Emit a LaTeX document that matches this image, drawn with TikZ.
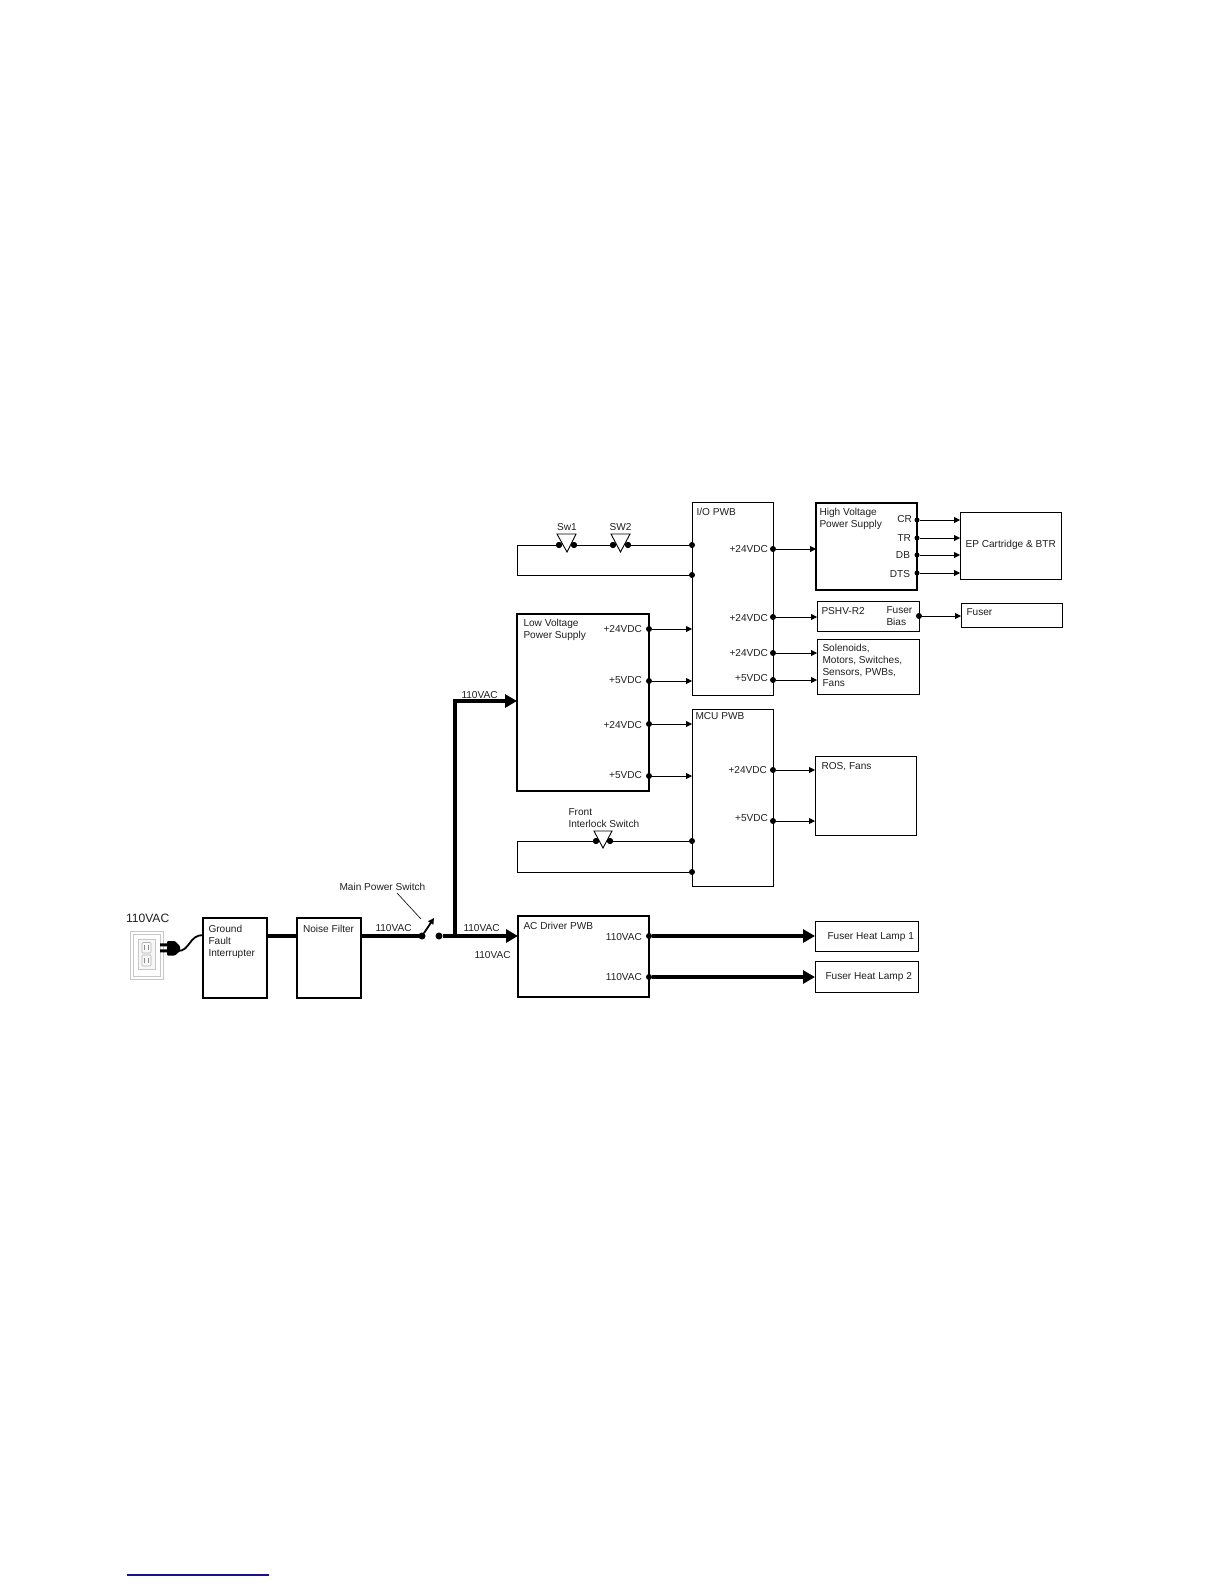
\documentclass[tikz,border=0pt]{standalone}
\usepackage{fontspec}
\setmainfont{Liberation Sans}
\usetikzlibrary{arrows.meta}
\newcommand{\bx}[6]{% style, name, x1, y1, x2, y2
  \pgfmathsetmacro{\bxw}{#5-#3}\pgfmathsetmacro{\bxh}{#6-#4}%
  \pgfmathsetmacro{\bxx}{(#3+#5)/2}\pgfmathsetmacro{\bxy}{(#4+#6)/2}%
  \node[#1,minimum width=\bxw pt,minimum height=\bxh pt] (#2) at (\bxx,\bxy) {};}
\tikzset{
  x=1pt,y=-1pt,
  boxthin/.style={draw=black,line width=1pt,inner sep=0pt,outer sep=0pt,fill=none},
  boxmid/.style={boxthin,line width=1.9pt},
  boxthick/.style={boxthin,line width=2.6pt},
  dot/.style={circle,fill=black,draw=none,minimum size=6pt,inner sep=0pt,outer sep=0pt},
  wire/.style={line width=1pt,draw=black},
  arrowwire/.style={wire,-{Triangle[length=6pt,width=6pt]}},
  mains/.style={line width=3.6pt,draw=black},
  mainsarrow/.style={mains,-{Triangle[length=12pt,width=13pt]}},
  txt/.style={inner sep=0pt,outer sep=0pt,anchor=north west,yshift=3.6pt,align=left,
    font=\fontsize{10.1}{11.7}\selectfont,text=black!88},
  txtr/.style={txt,anchor=north east,align=right},
  txtc/.style={txt,anchor=north,align=center},
  sw/.style={draw=black,line width=0.9pt,fill=white},
  plate/.style={draw=black!22,line width=0.8pt,fill=white},
}
\begin{document}
\begin{tikzpicture}
\useasboundingbox (0,0) rectangle (1224,1584);

% boxes
\bx{boxthick}{gfi}{203}{918}{267}{998}
\bx{boxthick}{nf}{297}{918}{361}{998}
\bx{boxmid}{ac}{518}{916}{649}{997}
\bx{boxmid}{lv}{517}{614}{649}{791}
\bx{boxthin}{io}{692}{502}{773}{695}
\bx{boxthin}{mcu}{692}{709}{773}{886}
\bx{boxthick}{hv}{816}{503}{917}{590}
\bx{boxthin}{ep}{960}{512}{1061}{579}
\bx{boxthin}{pshv}{817}{601}{919}{631}
\bx{boxthin}{fuser}{961}{603}{1062}{627}
\bx{boxthin}{sol}{817}{639}{919}{694}
\bx{boxthin}{ros}{815}{756}{916}{835}
\bx{boxthin}{lamp1}{815}{921}{918}{951}
\bx{boxthin}{lamp2}{815}{961}{918}{992}

% outlet
\draw[plate,line width=1pt] (130,931) rectangle (163,979);
\draw[plate] (133,934) rectangle (160,976);
\draw[plate,fill=black!3] (138,939) rectangle (155,969);
\draw[draw=black!30,line width=0.6pt,rounded corners=1pt] (142,942.5) rectangle (151,953) (142,955) rectangle (151,966);
\draw[draw=black!45,line width=0.7pt] (144,945) -- (144,950) (148.5,945) -- (148.5,950) (144,958) -- (144,963) (148.5,958) -- (148.5,963);
% plug
\fill[black] (160,943.3) rectangle (168,946.3) (160,949.3) rectangle (168,952.3);
\fill[black,rounded corners=1pt] (167,941) -- (175,941) -- (180,946) -- (180,951) -- (175,955.5) -- (167,955.5) -- cycle;
\draw[line width=1.8pt] (178,951) .. controls (190,951) and (189,935) .. (203,935);

% switch and mains dots
\node[dot,minimum size=7pt] (sa) at (422,936) {};
\node[dot,minimum size=7pt] (sb) at (439,936) {};
\coordinate (tee) at (455,936);
\coordinate (corner) at (455,701);
\coordinate (swtip) at (434,918);
\coordinate (ldA) at (397,893);
\coordinate (ldB) at (421,919);

\draw[mains] (gfi.east |- sa) -- (nf.west |- sa);
\draw[mains] (nf.east |- sa) -- (sa);
\draw[line width=1.8pt,-{Triangle[length=6pt,width=6pt]}] (sa) -- (swtip);
\draw[line width=0.6pt] (ldA) -- (ldB);
\draw[mainsarrow] (sb) -- (ac.west |- sb);
\draw[mainsarrow,line join=miter] (tee) -- (corner) -- (lv.west |- corner);

% AC driver outputs
\node[dot] (ac1) at (649,936) {};
\node[dot] (ac2) at (649,977) {};
\draw[mainsarrow] (ac1) -- (lamp1.west |- ac1);
\draw[mainsarrow] (ac2) -- (lamp2.west |- ac2);

% LVPS outputs
\node[dot] (lv1) at (649,629) {};
\node[dot] (lv2) at (649,681) {};
\node[dot] (lv3) at (649,724) {};
\node[dot] (lv4) at (649,776) {};
\draw[arrowwire] (lv1) -- (io.west |- lv1);
\draw[arrowwire] (lv2) -- (io.west |- lv2);
\draw[arrowwire] (lv3) -- (mcu.west |- lv3);
\draw[arrowwire] (lv4) -- (mcu.west |- lv4);

% I/O outputs
\node[dot] (io1) at (773,549) {};
\node[dot] (io2) at (773,617) {};
\node[dot] (io3) at (773,653) {};
\node[dot] (io4) at (773,680) {};
\draw[arrowwire] (io1) -- (hv.west |- io1);
\draw[arrowwire] (io2) -- (pshv.west |- io2);
\draw[arrowwire] (io3) -- (sol.west |- io3);
\draw[arrowwire] (io4) -- (sol.west |- io4);

% HV outputs
\node[dot,minimum size=5pt] (cr) at (917,520) {};
\node[dot,minimum size=5pt] (tr) at (917,538) {};
\node[dot,minimum size=5pt] (db) at (917,555) {};
\node[dot,minimum size=5pt] (dts) at (917,573) {};
\draw[arrowwire] (cr) -- (ep.west |- cr);
\draw[arrowwire] (tr) -- (ep.west |- tr);
\draw[arrowwire] (db) -- (ep.west |- db);
\draw[arrowwire] (dts) -- (ep.west |- dts);

% PSHV to fuser
\node[dot] (fb) at (919,616) {};
\draw[arrowwire] (fb) -- (fuser.west |- fb);

% MCU outputs
\node[dot] (mc1) at (773,770) {};
\node[dot] (mc2) at (773,821) {};
\draw[arrowwire] (mc1) -- (ros.west |- mc1);
\draw[arrowwire] (mc2) -- (ros.west |- mc2);

% switch loops: I/O
\node[dot] (ioa) at (692,545) {};
\node[dot] (iob) at (692,575) {};
\node[dot] (s1a) at (559,545) {};
\node[dot] (s1b) at (574,545) {};
\node[dot] (s2a) at (613,545) {};
\node[dot] (s2b) at (628,545) {};
\coordinate (ltop) at (517,545);
\coordinate (lbot) at (517,575);
\draw[wire] (s1a) -- (ltop) -- (lbot) -- (iob);
\draw[wire] (s1b) -- (s2a);
\draw[wire] (s2b) -- (ioa);
\draw[sw] (557,534) -- (576,534) -- (567,552) -- cycle;
\draw[sw] (611,534) -- (630,534) -- (620.5,552) -- cycle;
\node[dot] at (s1a) {};
\node[dot] at (s1b) {};
\node[dot] at (s2a) {};
\node[dot] at (s2b) {};

% switch loop: MCU
\node[dot] (mca) at (692,841) {};
\node[dot] (mcb) at (692,872) {};
\node[dot] (fia) at (596,841) {};
\node[dot] (fib) at (610,841) {};
\coordinate (mtop) at (517,841);
\coordinate (mbot) at (517,872);
\draw[wire] (fia) -- (mtop) -- (mbot) -- (mcb);
\draw[wire] (fib) -- (mca);
\draw[sw] (594,831) -- (612,831) -- (603,848) -- cycle;
\node[dot] at (fia) {};
\node[dot] at (fib) {};

% labels
\node[txt,font=\fontsize{12.1}{13}\selectfont] (t110) at (126,918) {110VAC};
\node[txt] (tgfi) at (208.5,929) {Ground\\Fault\\Interrupter};
\node[txt] (tnf) at (303,929) {Noise Filter};
\node[txt] (tmps) at (339.5,887) {Main Power Switch};
\node[txt] (tv1) at (375.5,928) {110VAC};
\node[txt] (tv2) at (463.5,928) {110VAC};
\node[txt] (tv3) at (474.5,955) {110VAC};
\node[txt] (tv4) at (461.5,695) {110VAC};
\node[txt] (tlv) at (523.5,623) {Low Voltage\\Power Supply};
\node[txtr] (tl1) at (642,629) {+24VDC};
\node[txtr] (tl2) at (642,680) {+5VDC};
\node[txtr] (tl3) at (642,725) {+24VDC};
\node[txtr] (tl4) at (642,775) {+5VDC};
\node[txtc] (tsw1) at (567,527) {Sw1};
\node[txtc] (tsw2) at (620.5,527) {SW2};
\node[txt] (tio) at (696.5,512) {I/O PWB};
\node[txtr] (ti1) at (768,549) {+24VDC};
\node[txtr] (ti2) at (768,618) {+24VDC};
\node[txtr] (ti3) at (768,653) {+24VDC};
\node[txtr] (ti4) at (768,678) {+5VDC};
\node[txt] (tmcu) at (695.5,716) {MCU PWB};
\node[txtr] (tm1) at (767,770) {+24VDC};
\node[txtr] (tm2) at (768,818) {+5VDC};
\node[txt] (tfi) at (568.5,812) {Front\\Interlock Switch};
\node[txt] (thv) at (819.5,512) {High Voltage\\Power Supply};
\node[txtr] (tcr) at (912,519) {CR};
\node[txtr] (ttr) at (911,538) {TR};
\node[txtr] (tdb) at (910,555) {DB};
\node[txtr] (tdts) at (910,574) {DTS};
\node[txt] (tep) at (965.5,544) {EP Cartridge \& BTR};
\node[txt] (tps) at (821.5,611) {PSHV-R2};
\node[txt] (tfb) at (886.5,610) {Fuser\\Bias};
\node[txt] (tfu) at (966.5,612) {Fuser};
\node[txt] (tsol) at (822.5,648) {Solenoids,\\Motors, Switches,\\Sensors, PWBs,\\Fans};
\node[txt] (tros) at (821.5,766) {ROS, Fans};
\node[txt] (tacd) at (523.5,926) {AC Driver PWB};
\node[txtr] (ta1) at (642,937) {110VAC};
\node[txtr] (ta2) at (642,977) {110VAC};
\node[txt] (tl1b) at (827.5,936) {Fuser Heat Lamp 1};
\node[txt] (tl2b) at (825.5,976) {Fuser Heat Lamp 2};

% rule at the foot of the page
\draw[line width=1.1pt,draw={rgb,255:red,20;green,20;blue,140}] (127,1575) -- (269,1575);
\end{tikzpicture}
\end{document}
